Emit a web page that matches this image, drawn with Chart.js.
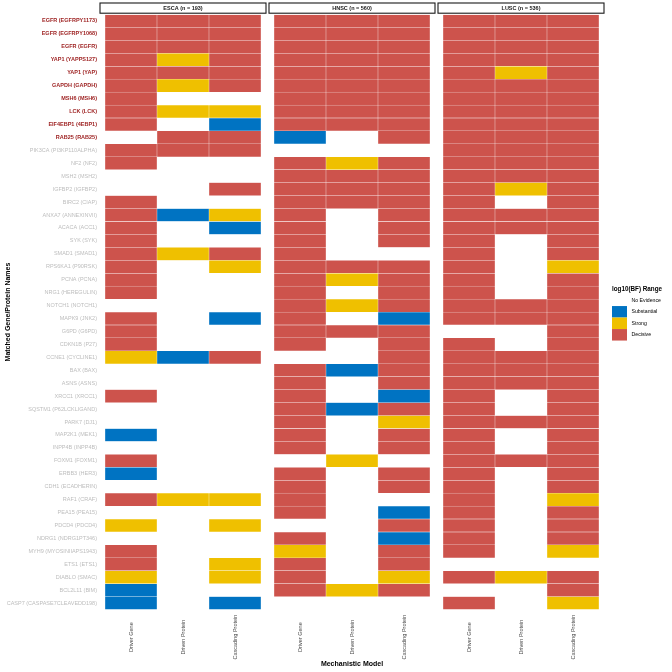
<!DOCTYPE html>
<html><head><meta charset="utf-8">
<script src="https://cdn.jsdelivr.net/npm/chart.js@4.4.1/dist/chart.umd.min.js"></script>
<style>html,body{margin:0;padding:0;background:#fff;}#wrap{width:672px;height:672px;}</style>
</head><body><div id="wrap"><canvas id="c" width="672" height="672"></canvas></div>
<script>
const rowNames = [
 'EGFR (EGFRPY1173)','EGFR (EGFRPY1068)','EGFR (EGFR)','YAP1 (YAPPS127)','YAP1 (YAP)',
 'GAPDH (GAPDH)','MSH6 (MSH6)','LCK (LCK)','EIF4EBP1 (4EBP1)','RAB25 (RAB25)',
 'PIK3CA (PI3KP110ALPHA)','NF2 (NF2)','MSH2 (MSH2)','IGFBP2 (IGFBP2)','BIRC2 (CIAP)',
 'ANXA7 (ANNEXINVII)','ACACA (ACC1)','SYK (SYK)','SMAD1 (SMAD1)','RPS6KA1 (P90RSK)',
 'PCNA (PCNA)','NRG1 (HEREGULIN)','NOTCH1 (NOTCH1)','MAPK9 (JNK2)','G6PD (G6PD)',
 'CDKN1B (P27)','CCNE1 (CYCLINE1)','BAX (BAX)','ASNS (ASNS)','XRCC1 (XRCC1)',
 'SQSTM1 (P62LCKLIGAND)','PARK7 (DJ1)','MAP2K1 (MEK1)','INPP4B (INPP4B)','FOXM1 (FOXM1)',
 'ERBB3 (HER3)','CDH1 (ECADHERIN)','RAF1 (CRAF)','PEA15 (PEA15)','PDCD4 (PDCD4)',
 'NDRG1 (NDRG1PT346)','MYH9 (MYOSINIIAPS1943)','ETS1 (ETS1)','DIABLO (SMAC)','BCL2L11 (BIM)',
 'CASP7 (CASPASE7CLEAVEDD198)'
];
const highlightedRows = rowNames.slice(0, 10);
const models = ['Driver Gene','Driven Protein','Cascading Protein'];
const facets = ['ESCA (n = 193)','HNSC (n = 560)','LUSC (n = 536)'];
const levelNames = ['No Evidence','Substantial','Strong','Decisive'];
const levelColors = ['#FFFFFF','#0073C2','#EFC000','#CD534C'];

// evidence level per row: 0 none, 1 substantial, 2 strong, 3 decisive
const escaDriverGene      = [3,3,3,3,3,3,3,3,3,0, 3,3,0,0,3,3,3,3,3,3, 3,3,0,3,3,3,2,0,0,3, 0,0,1,0,3,1,0,3,0,2, 0,3,3,2,1,1];
const escaDrivenProtein   = [3,3,3,2,3,2,0,2,0,3, 3,0,0,0,0,1,0,0,2,0, 0,0,0,0,0,0,1,0,0,0, 0,0,0,0,0,0,0,2,0,0, 0,0,0,0,0,0];
const escaCascading       = [3,3,3,3,3,3,0,2,1,3, 3,0,0,3,0,2,1,0,3,2, 0,0,0,1,0,0,3,0,0,0, 0,0,0,0,0,0,0,2,0,2, 0,0,2,2,0,1];
const hnscDriverGene      = [3,3,3,3,3,3,3,3,3,1, 0,3,3,3,3,3,3,3,3,3, 3,3,3,3,3,3,0,3,3,3, 3,3,3,3,0,3,3,3,3,0, 3,2,3,3,3,0];
const hnscDrivenProtein   = [3,3,3,3,3,3,3,3,3,0, 0,2,3,3,3,0,0,0,0,3, 2,0,2,0,3,0,0,1,0,0, 1,0,0,0,2,0,0,0,0,0, 0,0,0,0,2,0];
const hnscCascading       = [3,3,3,3,3,3,3,3,3,3, 0,3,3,3,3,3,3,3,0,3, 3,3,3,1,3,3,3,3,3,1, 3,2,3,3,0,3,3,0,1,3, 1,3,3,2,3,0];
const luscDriverGene      = [3,3,3,3,3,3,3,3,3,3, 3,3,3,3,3,3,3,3,3,3, 3,3,3,3,0,3,3,3,3,3, 3,3,3,3,3,3,3,3,3,3, 3,3,0,3,0,3];
const luscDrivenProtein   = [3,3,3,3,2,3,3,3,3,3, 3,3,3,2,0,3,3,0,0,0, 0,0,3,3,0,0,3,3,3,0, 0,3,0,0,3,0,0,0,0,0, 0,0,0,2,0,0];
const luscCascading       = [3,3,3,3,3,3,3,3,3,3, 3,3,3,3,3,3,3,3,3,2, 3,3,3,3,3,3,3,3,3,3, 3,3,3,3,3,3,3,2,3,3, 3,2,0,3,3,2];

const facetData = [
  [escaDriverGene, escaDrivenProtein, escaCascading],
  [hnscDriverGene, hnscDrivenProtein, hnscCascading],
  [luscDriverGene, luscDrivenProtein, luscCascading]
];
const facetGap = 0.25;
const facetStart = f => f * (models.length + facetGap);

const FONT = "'Liberation Sans', Arial, Helvetica, sans-serif";

const datasets = [1,2,3].map(level => ({
  label: levelNames[level],
  data: [],
  backgroundColor: levelColors[level],
  borderColor: 'rgba(255,255,255,0.22)',
  borderWidth: 0.5,
  borderSkipped: false
}));
facetData.forEach((cols, f) => {
  cols.forEach((vals, m) => {
    vals.forEach((lv, r) => {
      if (lv > 0) {
        const s = facetStart(f) + m;
        datasets[lv - 1].data.push({ x: [s, s + 1], y: rowNames[r] });
      }
    });
  });
});

const decor = {
  id: 'decor',
  afterDraw(chart) {
    const ctx = chart.ctx, xs = chart.scales.x, area = chart.chartArea;
    ctx.save();
    // facet strips
    facets.forEach((name, f) => {
      const x0 = xs.getPixelForValue(facetStart(f)) - 5;
      const x1 = xs.getPixelForValue(facetStart(f) + models.length) + 5;
      const y0 = 3, y1 = area.top - 1.3;
      ctx.fillStyle = '#fff';
      ctx.fillRect(x0, y0, x1 - x0, y1 - y0);
      ctx.strokeStyle = '#1a1a1a';
      ctx.lineWidth = 1.1;
      ctx.strokeRect(x0, y0, x1 - x0, y1 - y0);
      ctx.fillStyle = '#1a1a1a';
      ctx.font = `bold 5.5px ${FONT}`;
      ctx.textAlign = 'center';
      ctx.textBaseline = 'middle';
      ctx.fillText(name, (x0 + x1) / 2, (y0 + y1) / 2 + 0.3);
      // column labels
      models.forEach((mName, m) => {
        const cx = xs.getPixelForValue(facetStart(f) + m + 0.5);
        ctx.save();
        ctx.translate(cx, area.bottom + 27.5);
        ctx.rotate(-Math.PI / 2);
        ctx.fillStyle = '#4d4d4d';
        ctx.font = `5.5px ${FONT}`;
        ctx.textAlign = 'center';
        ctx.textBaseline = 'middle';
        ctx.fillText(mName, 0, 0);
        ctx.restore();
      });
    });
    // legend
    const lx = area.right + 13;
    const cy = (area.top + area.bottom) / 2;
    ctx.fillStyle = '#000';
    ctx.font = `bold 6.3px ${FONT}`;
    ctx.textAlign = 'left';
    ctx.textBaseline = 'middle';
    ctx.fillText('log10(BF) Range', lx, cy - 23);
    levelNames.forEach((nm, i) => {
      const ky = cy - 17.5 + i * 11.5;
      ctx.fillStyle = levelColors[i];
      ctx.fillRect(lx, ky, 15, 11.5);
      ctx.fillStyle = '#000';
      ctx.font = `5.2px ${FONT}`;
      ctx.fillText(nm, lx + 19.5, ky + 5.9);
    });
    ctx.restore();
  }
};

new Chart(document.getElementById('c'), {
  type: 'bar',
  data: { labels: rowNames, datasets },
  options: {
    responsive: false,
    animation: false,
    indexAxis: 'y',
    layout: { padding: { left: 0, right: 73, top: 14.5, bottom: 0 } },
    datasets: { bar: { grouped: false, barPercentage: 1, categoryPercentage: 1 } },
    plugins: { legend: { display: false }, tooltip: { enabled: false } },
    scales: {
      x: {
        type: 'linear',
        min: 0,
        max: facetStart(facets.length - 1) + models.length,
        grid: { display: false, drawTicks: false },
        border: { display: false },
        ticks: { display: false },
        title: { display: true, text: 'Mechanistic Model', color: '#000',
                 font: { family: FONT, size: 7, weight: 'bold' }, padding: { top: 50, bottom: 4 } }
      },
      y: {
        type: 'category',
        offset: true,
        grid: { display: false, drawTicks: false },
        border: { display: false },
        afterFit(scale) { scale.width = 105; },
        ticks: {
          autoSkip: false,
          padding: 8,
          color: c => highlightedRows.includes(rowNames[c.index]) ? '#9b1c1c' : '#bdbdbd',
          font: c => ({ family: FONT, size: 5.5, weight: highlightedRows.includes(rowNames[c.index]) ? 'bold' : 'normal' })
        },
        title: { display: true, text: 'Matched Gene/Protein Names', color: '#000',
                 font: { family: FONT, size: 7, weight: 'bold' }, padding: { top: 4, bottom: 0 } }
      }
    }
  },
  plugins: [decor]
});
</script>
</body></html>
